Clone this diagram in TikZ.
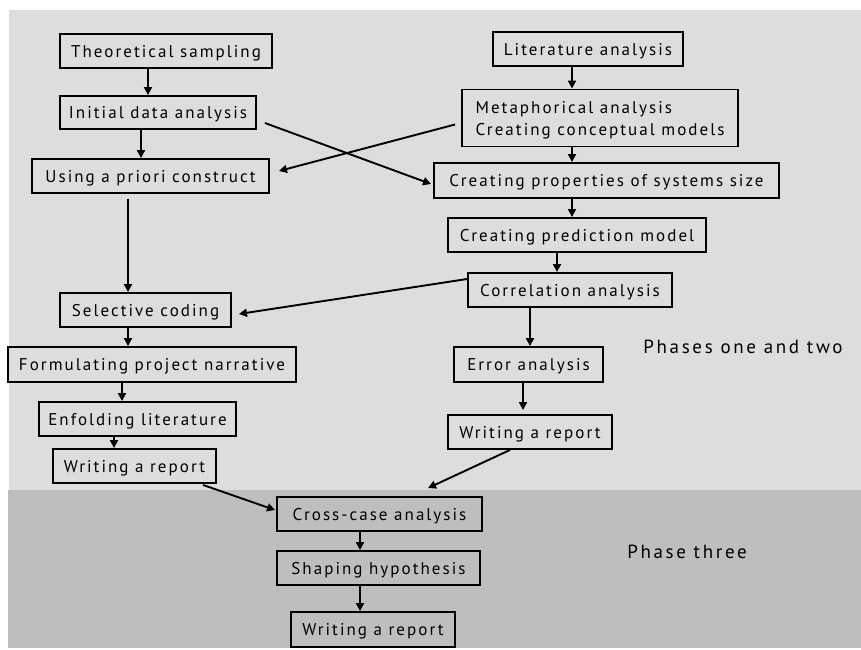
\documentclass[tikz,border=0pt]{standalone}
\usepackage{fontspec}
\setmainfont[LetterSpace=12]{PT Sans}
\usetikzlibrary{arrows.meta,calc}
\definecolor{panelA}{RGB}{221,221,221}
\definecolor{panelB}{RGB}{190,190,190}
\tikzset{
  boxbase/.style={draw=black, line width=1.9pt, inner sep=0pt, font=\fontsize{17}{22}\selectfont},
  box/.style={boxbase, text height=12pt, text depth=0pt},
  arr/.style={line width=1.9pt, -{Triangle[length=8pt,width=8pt]}},
  phase/.style={font=\fontsize{19}{22}\selectfont\addfontfeatures{LetterSpace=14}, inner sep=0pt}
}
% place a box by its corners (x1,y1) (x2,y2) in pixel-like units
\newcommand{\pbox}[6]{%
  \node[box, minimum width={#4-#2}, minimum height={#5-#3}] (#1) at ({(#2+#4)/2},{(#3+#5)/2}) {#6};}
\begin{document}
\begin{tikzpicture}[x=1pt,y=-1pt]
\useasboundingbox (0,0) rectangle (861,649);
% background panels
\fill[panelA] (9,10) rectangle (861,490);
\fill[panelB] (8,490) rectangle (861,648);

% left column
\pbox{ts}{60}{34}{272}{68}{Theoretical sampling}
\pbox{ida}{60}{96}{256}{129}{Initial data analysis}
\pbox{uac}{32}{159}{269}{193}{Using a priori construct}
\pbox{sc}{60}{293}{231}{327}{Selective coding}
\pbox{fpn}{8}{347}{296}{382}{Formulating project narrative}
\pbox{el}{39}{402}{236}{436}{Enfolding literature}
\pbox{wrA}{53}{449}{216}{483}{Writing a report}

% right column
\pbox{la}{493}{32}{683}{66}{Literature analysis}
\node[boxbase, minimum width=276, minimum height=57, align=left] (ma) at (600,118)
  {\rule{0pt}{16pt}Metaphorical analysis\\Creating conceptual models};
\pbox{cps}{434}{163}{779}{198}{Creating properties of systems size}
\pbox{cpm}{448}{218}{706}{252}{Creating prediction model}
\pbox{ca}{468}{273}{672}{307}{Correlation analysis}
\pbox{ea}{454}{347}{603}{382}{Error analysis}
\pbox{wrB}{448}{415}{612}{449}{Writing a report}

% phase three
\pbox{cca}{277}{497}{482}{531}{Cross-case analysis}
\pbox{sh}{277}{551}{480}{585}{Shaping hypothesis}
\pbox{wrC}{291}{612}{455}{647}{Writing a report}

% phase labels
\node[phase] (p12) at (743,347) {Phases one and two};
\node[phase] (p3) at (687,552) {Phase three};

% vertical connectors
\draw[arr] (ts.south -| 148,0) -- (ida.north -| 148,0);
\draw[arr] (ida.south -| 141,0) -- (uac.north -| 141,0);
\draw[arr, shorten <=5pt] (uac.south -| 128,0) -- (sc.north -| 128,0);
\draw[arr] (sc.south -| 128,0) -- (fpn.north -| 128,0);
\draw[arr] (fpn.south -| 122,0) -- (el.north -| 122,0);
\draw[arr] (el.south -| 114,0) -- (wrA.north -| 114,0);
\draw[arr] (la.south -| 572,0) -- (ma.north -| 572,0);
\draw[arr] (ma.south -| 572,0) -- (cps.north -| 572,0);
\draw[arr] (cps.south -| 572,0) -- (cpm.north -| 572,0);
\draw[arr] (cpm.south -| 557,0) -- (ca.north -| 557,0);
\draw[arr] (ca.south -| 530,0) -- (ea.north -| 530,0);
\draw[arr, shorten >=4pt] (ea.south -| 523,0) -- (wrB.north -| 523,0);
\draw[arr] (cca.south -| 360,0) -- (sh.north -| 360,0);
\draw[arr] (sh.south -| 360,0) -- (wrC.north -| 360,0);

% diagonal connectors
\draw[arr] ($(ida.east)+(8,10.5)$) -- ($(cps.west)+(-2,3.5)$);
\draw[arr] ($(ma.west)+(-6,6.5)$) -- ($(uac.east)+(9,-5)$);
\draw[arr] ($(ca.west)+(0,-11)$) -- ($(sc.east)+(7,4)$);
\draw[arr] ($(wrA.south)+(68.5,1)$) -- ($(cca.west)+(-1,-4)$);
\draw[arr] ($(wrB.south)+(-20,0)$) -- ($(cca.north)+(48.5,-8)$);
\end{tikzpicture}
\end{document}
